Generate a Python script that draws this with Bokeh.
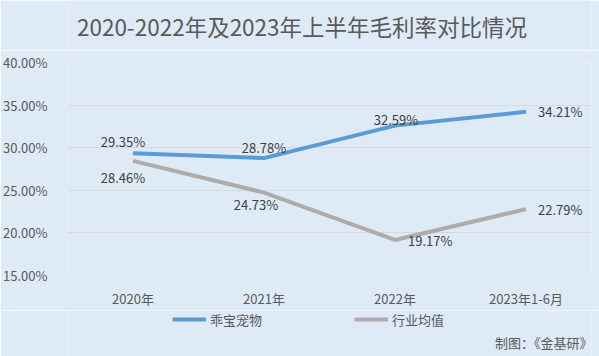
from bokeh.plotting import figure
from bokeh.layouts import column
from bokeh.models import (ColumnDataSource, NumeralTickFormatter, FixedTicker, Legend,
                          LegendItem, Label, FactorRange, Range1d)
from bokeh.core.properties import value
from bokeh.embed import file_html
from bokeh.resources import INLINE

categories = ["2020年", "2021年", "2022年", "2023年1-6月"]
guaibao = [0.2935, 0.2878, 0.3259, 0.3421]
industry = [0.2846, 0.2473, 0.1917, 0.2279]
y_ticks = [0.15, 0.20, 0.25, 0.30, 0.35, 0.40]
series_names = ["乖宝宠物", "行业均值"]
title_text = "2020-2022年及2023年上半年毛利率对比情况"
source_text = "制图：《金基研》"

FONT = "Noto Sans CJK SC"
BG = "#DEEAF6"
BLUE = "#5B9BD5"
GRAY = "#AFABAB"
W = 599
LEFT = 64          # left border of the chart frame (strips align to it)
FRAME_X0 = 65      # observed screen origin of the aligned strip frames

src1 = ColumnDataSource(dict(x=categories, y=guaibao,
                             lab=[f"{v*100:.2f}%" for v in guaibao]))
src2 = ColumnDataSource(dict(x=categories, y=industry,
                             lab=[f"{v*100:.2f}%" for v in industry]))


def strip_fig(h, x_range, y_range):
    f = figure(width=W, height=h, output_backend="svg", toolbar_location=None,
               x_range=x_range, y_range=y_range, min_border=0,
               x_axis_location=None, y_axis_location=None)
    f.grid.visible = False
    f.outline_line_color = None
    f.background_fill_color = BG
    f.border_fill_color = BG
    return f


# ---- title strip ----
top = strip_fig(50, Range1d(0, 1), Range1d(0, 1))
top.add_layout(Label(x=W / 2 - FRAME_X0, y=25, x_units="screen", y_units="screen",
                     text=title_text, text_align="center",
                     text_baseline="middle", text_font=FONT, text_font_size="22.5px",
                     text_color="#595959"))

# ---- main chart ----
p = figure(width=W, height=260, output_backend="svg", toolbar_location=None,
           x_range=FactorRange(*categories, range_padding=0),
           y_range=Range1d(0.15, 0.40),
           min_border_left=LEFT, min_border_right=8, min_border_top=12, min_border_bottom=35)
p.background_fill_color = BG
p.border_fill_color = BG
p.outline_line_color = None

r1 = p.line("x", "y", source=src1, line_color=BLUE, line_width=4)
r2 = p.line("x", "y", source=src2, line_color=GRAY, line_width=4)

# data-label placement (style only)
src1.data["dx"] = [-10, 0, 1, 12]
src1.data["dy"] = [-12, -11, -6, 0]
src1.data["al"] = ["center", "center", "center", "left"]
src2.data["dx"] = [-10, -8, 13, 12]
src2.data["dy"] = [17, 12, 1, 0]
src2.data["al"] = ["center", "center", "left", "left"]

for s in (src1, src2):
    p.text("x", "y", text="lab", source=s, x_offset="dx", y_offset="dy",
           text_align="al", text_baseline="middle", text_font=value(FONT),
           text_font_size="13px", text_color="#404040")

p.yaxis.ticker = FixedTicker(ticks=y_ticks)
p.yaxis.formatter = NumeralTickFormatter(format="0.00%")
p.yaxis.axis_line_color = None
p.yaxis.major_tick_line_color = None
p.yaxis.minor_tick_line_color = None
p.yaxis.major_label_text_font = FONT
p.yaxis.major_label_text_font_size = "13px"
p.yaxis.major_label_text_color = "#595959"
p.yaxis.major_label_standoff = 14

p.xaxis.axis_line_color = None
p.xaxis.major_tick_line_color = None
p.xaxis.minor_tick_line_color = None
p.xaxis.major_label_text_font = FONT
p.xaxis.major_label_text_font_size = "13px"
p.xaxis.major_label_text_color = "#595959"
p.xaxis.major_label_standoff = 7

p.xgrid.grid_line_color = None
p.ygrid.grid_line_color = "#D9D9D9"
p.ygrid.ticker = FixedTicker(ticks=y_ticks)

# ---- legend / source strip ----
# the series are drawn here too, but the strip's y range lies outside the data,
# so only the legend swatches are visible
bot = strip_fig(46, FactorRange(*categories, range_padding=0), Range1d(10, 11))
k1 = bot.line("x", "y", source=src1, line_color=BLUE, line_width=4)
k2 = bot.line("x", "y", source=src2, line_color=GRAY, line_width=4)
legend = Legend(items=[LegendItem(label=series_names[0], renderers=[k1]),
                       LegendItem(label=series_names[1], renderers=[k2])],
                orientation="horizontal", location=(171 - FRAME_X0 - 1, 27),
                background_fill_alpha=0, border_line_color=None,
                label_text_font=FONT, label_text_font_size="13px",
                label_text_color="#595959", glyph_width=34, glyph_height=20,
                label_height=20, spacing=92, padding=0, margin=0, label_standoff=4)
bot.add_layout(legend, "center")
bot.add_layout(Label(x=590 - FRAME_X0, y=14, x_units="screen", y_units="screen",
                     text=source_text, text_align="right",
                     text_baseline="middle", text_font=FONT, text_font_size="13px",
                     text_color="#595959"))

layout = column(top, p, bot, spacing=0)
open("out.html", "w").write(file_html(layout, INLINE))
